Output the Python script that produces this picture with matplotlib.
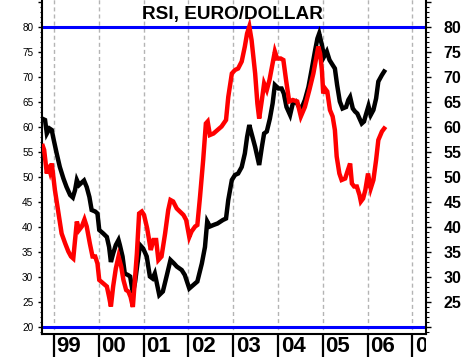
import matplotlib
matplotlib.use('Agg')
import matplotlib.pyplot as plt
from matplotlib.ticker import MultipleLocator, FuncFormatter

# Monthly-ish RSI readings (decimal year, value).
black_t = [1998.73, 1998.80, 1998.84, 1998.90, 1998.95, 1998.98, 1999.06, 1999.13,
           1999.21, 1999.28, 1999.36, 1999.42, 1999.47, 1999.51, 1999.56, 1999.62,
           1999.67, 1999.73, 1999.79, 1999.84, 1999.92, 1999.97, 2000.01, 2000.10,
           2000.18, 2000.23, 2000.27, 2000.32, 2000.38, 2000.44, 2000.47, 2000.53,
           2000.58, 2000.65, 2000.70, 2000.76, 2000.81, 2000.86, 2000.92, 2000.99,
           2001.07, 2001.14, 2001.20, 2001.25, 2001.35, 2001.43, 2001.52, 2001.60,
           2001.68, 2001.74, 2001.85, 2001.92, 2002.02, 2002.11, 2002.20, 2002.30,
           2002.37, 2002.42, 2002.48, 2002.56, 2002.65, 2002.77, 2002.84, 2002.89,
           2002.97, 2003.04, 2003.11, 2003.19, 2003.26, 2003.31, 2003.36, 2003.41,
           2003.49, 2003.58, 2003.64, 2003.69, 2003.75, 2003.82, 2003.88, 2003.93,
           2004.01, 2004.08, 2004.13, 2004.19, 2004.27, 2004.33, 2004.40, 2004.51,
           2004.60, 2004.68, 2004.75, 2004.83, 2004.88, 2004.92, 2004.98, 2005.03,
           2005.09, 2005.15, 2005.22, 2005.27, 2005.32, 2005.38, 2005.44, 2005.52,
           2005.57, 2005.61, 2005.67, 2005.72, 2005.77, 2005.82, 2005.87, 2005.92,
           2005.96, 2006.02, 2006.07, 2006.13, 2006.19, 2006.24, 2006.32, 2006.37]
black_v = [61.7, 61.4, 58.7, 59.7, 59.4, 58.0, 54.7, 52.0,
           49.7, 48.0, 46.4, 45.9, 47.4, 49.4, 48.4, 48.9,
           49.3, 48.0, 46.0, 43.4, 43.1, 42.7, 39.4, 38.7,
           38.0, 36.0, 33.0, 34.7, 36.4, 37.4, 36.4, 34.1,
           30.7, 30.4, 30.1, 26.8, 29.0, 32.5, 36.4, 35.7,
           34.1, 30.1, 29.7, 30.7, 26.4, 27.1, 30.4, 33.4,
           32.7, 32.1, 31.4, 30.4, 27.7, 28.4, 29.1, 32.7,
           36.0, 41.1, 40.1, 40.4, 40.7, 41.4, 41.7, 45.4,
           49.4, 50.4, 50.7, 52.0, 54.7, 58.0, 60.4, 58.7,
           56.0, 52.4, 56.0, 58.7, 59.1, 61.7, 64.7, 68.4,
           67.7, 67.7, 66.7, 64.0, 62.4, 64.7, 65.1, 63.4,
           65.4, 68.0, 71.4, 75.4, 77.7, 78.7, 76.4, 74.1,
           75.1, 73.4, 72.4, 71.7, 68.4, 65.1, 63.7, 64.0,
           65.4, 66.0, 63.7, 63.1, 62.7, 61.7, 60.7, 61.1,
           62.4, 64.2, 62.4, 63.4, 65.7, 69.1, 70.4, 71.1]

red_t = [1998.75, 1998.78, 1998.84, 1998.87, 1998.91, 1998.95, 1998.98, 1999.02,
         1999.10, 1999.17, 1999.25, 1999.32, 1999.38, 1999.43, 1999.47, 1999.51,
         1999.56, 1999.62, 1999.68, 1999.73, 1999.80, 1999.86, 1999.92, 1999.97,
         2000.01, 2000.10, 2000.18, 2000.23, 2000.27, 2000.32, 2000.38, 2000.44,
         2000.50, 2000.55, 2000.61, 2000.66, 2000.71, 2000.76, 2000.85, 2000.90,
         2000.96, 2001.01, 2001.08, 2001.16, 2001.22, 2001.28, 2001.33, 2001.40,
         2001.48, 2001.55, 2001.60, 2001.66, 2001.74, 2001.81, 2001.89, 2001.95,
         2002.02, 2002.07, 2002.15, 2002.20, 2002.26, 2002.33, 2002.39, 2002.43,
         2002.48, 2002.56, 2002.65, 2002.74, 2002.84, 2002.89, 2002.97, 2003.04,
         2003.11, 2003.19, 2003.26, 2003.31, 2003.36, 2003.41, 2003.49, 2003.54,
         2003.58, 2003.64, 2003.69, 2003.75, 2003.81, 2003.88, 2003.93, 2003.98,
         2004.06, 2004.12, 2004.18, 2004.25, 2004.33, 2004.43, 2004.51, 2004.60,
         2004.70, 2004.79, 2004.86, 2004.90, 2004.94, 2004.98, 2005.01, 2005.05,
         2005.10, 2005.16, 2005.22, 2005.27, 2005.31, 2005.37, 2005.42, 2005.50,
         2005.55, 2005.61, 2005.65, 2005.70, 2005.76, 2005.82, 2005.85, 2005.90,
         2005.95, 2006.01, 2006.07, 2006.13, 2006.19, 2006.24, 2006.32, 2006.37]
red_v = [56.2, 55.4, 50.7, 52.4, 51.1, 52.7, 50.4, 47.4,
         42.7, 38.7, 36.7, 35.1, 34.1, 33.7, 37.4, 41.1,
         39.4, 40.1, 41.5, 40.1, 36.7, 34.1, 34.1, 32.7,
         29.4, 28.7, 28.1, 26.0, 24.1, 28.1, 31.7, 34.1,
         32.1, 29.4, 27.4, 27.1, 26.0, 24.0, 34.7, 42.7,
         43.1, 42.4, 39.7, 35.4, 37.4, 37.4, 33.4, 34.1,
         38.7, 43.4, 45.4, 45.1, 43.7, 43.1, 42.4, 41.4,
         38.0, 39.1, 40.1, 40.4, 46.1, 53.4, 60.7, 61.1,
         58.4, 58.7, 59.4, 60.1, 61.4, 66.0, 70.7, 71.4,
         71.7, 73.1, 76.1, 78.7, 80.1, 77.4, 70.7, 64.7,
         61.7, 65.4, 68.7, 67.4, 69.4, 72.7, 75.1, 73.7,
         73.7, 73.4, 69.4, 65.1, 65.4, 65.1, 62.1, 64.0,
         67.4, 70.7, 74.1, 76.1, 74.7, 71.4, 66.7, 67.7,
         67.1, 63.4, 62.1, 59.4, 54.1, 50.7, 49.4, 49.7,
         51.1, 52.7, 48.7, 48.1, 48.1, 46.4, 45.1, 45.7,
         47.4, 50.7, 47.7, 49.4, 53.4, 57.4, 59.1, 59.7]

years = list(range(1999, 2008))
year_labels = ['99', '00', '01', '02', '03', '04', '05', '06', '07']
levels = [80, 20]
title = 'RSI, EURO/DOLLAR'

W, H = 467, 357
X0, X1 = 1998.732, 2007.304
FONT = ['Liberation Sans', 'DejaVu Sans']
NARROW = ['Liberation Sans Narrow', 'Liberation Sans', 'DejaVu Sans']

fig = plt.figure(figsize=(W / 100, H / 100), dpi=100)
ax = fig.add_axes([42 / W, 23 / H, 384 / W, 334 / H])

# Year gridlines and overbought / oversold levels.
ax.vlines(years, 0, 100, colors='#b4b4b4', linewidth=1, linestyles=(0, (2.9, 2.2)), zorder=1)
ax.hlines(levels, X0, X1, colors='#0000ff', linewidth=2.2, zorder=2)

ax.plot(black_t, black_v, color='black', linewidth=3.2, solid_joinstyle='miter', zorder=3)
ax.plot(red_t, red_v, color='#ff0000', linewidth=3.2, solid_joinstyle='miter', zorder=4)

ax.set_xlim(X0, X1)
ax.set_ylim(18.6, 85.4)
ax.set_xticks([])
ax.spines['top'].set_visible(False)
for s in ['left', 'right', 'bottom']:
    ax.spines[s].set_linewidth(1.5)

fmt_left = FuncFormatter(lambda v, p: '%d' % v if 20 <= v <= 80 else '')
fmt_right = FuncFormatter(lambda v, p: '%d' % v if 25 <= v <= 80 else '')

ax.yaxis.set_major_locator(MultipleLocator(5))
ax.yaxis.set_minor_locator(MultipleLocator(1))
ax.yaxis.set_major_formatter(fmt_left)
ax.tick_params(axis='y', which='major', length=3.2, width=1, pad=3, labelsize=7.2)
ax.tick_params(axis='y', which='minor', length=1.6, width=0.8)
for lab in ax.get_yticklabels():
    lab.set_family(FONT)

# Right axis, same scale, bold labels.
ax2 = ax.twinx()
ax2.set_ylim(ax.get_ylim())
ax2.yaxis.set_major_locator(MultipleLocator(5))
ax2.yaxis.set_minor_locator(MultipleLocator(1))
ax2.yaxis.set_major_formatter(fmt_right)
ax2.tick_params(axis='y', which='major', length=3.6, width=1, pad=9, labelsize=11.5)
ax2.tick_params(axis='y', which='minor', length=1.8, width=0.8)
for s in ax2.spines.values():
    s.set_visible(False)
for lab in ax2.get_yticklabels():
    lab.set_family(FONT)
    lab.set_fontweight('bold')

# Year strip under the plot.
axb = fig.add_axes([42 / W, 0, 384 / W, 23 / H])
axb.set_xlim(X0, X1)
axb.set_ylim(0, 1)
axb.axis('off')
axb.vlines(years, 0, 1, colors='black', linewidth=1.6)
for yr, lab in zip(years, year_labels):
    axb.text(yr + 0.06, 0.47, lab, ha='left', va='center', fontsize=16,
             fontweight='bold', family=NARROW, clip_on=True)

fig.text(232 / W, 1 - 14 / H, title, ha='center', va='center', fontsize=13.7,
         fontweight='bold', family=FONT)

fig.savefig('out.png', dpi=100)
